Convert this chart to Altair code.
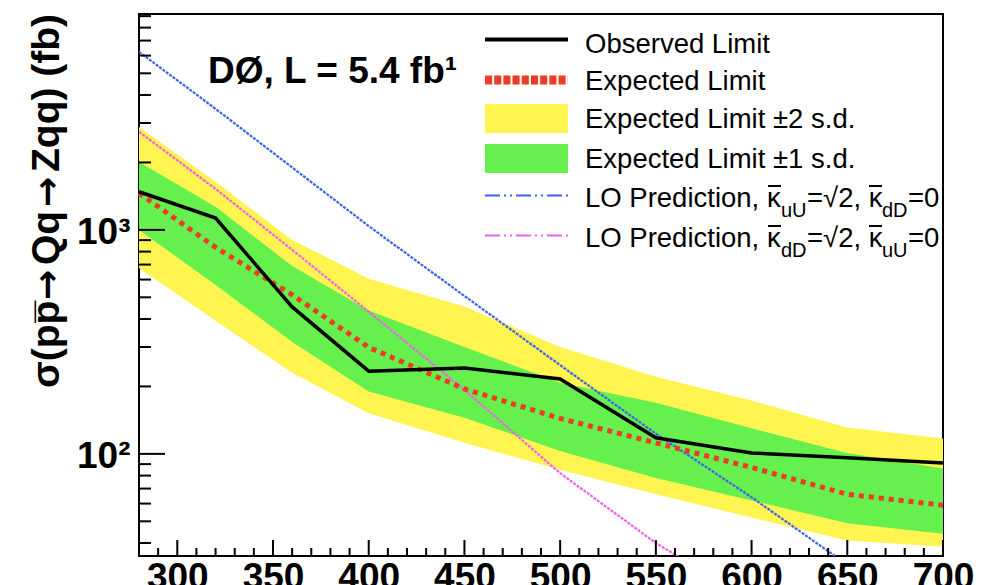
import altair as alt
import pandas as pd

# ---- data ----
mass = [280, 320, 360, 400, 450, 500, 550, 600, 650, 700]
observed = [1480, 1130, 453, 234, 242, 216, 118, 101, 96, 91]
expected = [1460, 836, 513, 299, 195, 144, 112, 87, 66, 59]
band1_lo = [1000, 568, 316, 190, 145, 103, 78, 62, 49, 44]
band1_hi = [2010, 1270, 690, 437, 300, 208, 169, 130, 101, 86]
band2_lo = [676, 393, 230, 152, 112, 85, 66, 52, 41, 38.5]
band2_hi = [2880, 1640, 902, 605, 455, 300, 221, 173, 131, 117]

lo_mass = [280, 320, 360, 400, 450, 500, 550, 600, 650]
lo_uU = [6240, 3470, 1900, 1040, 507, 249, 123, 64, 32]
lo_dD = [2740, 1524, 815, 431, 193, 82, 40, 22, 11]

x_major = [300, 350, 400, 450, 500, 550, 600, 650, 700]
x_minor = [290, 310, 320, 330, 340, 360, 370, 380, 390, 410, 420, 430, 440,
           460, 470, 480, 490, 510, 520, 530, 540, 560, 570, 580, 590, 610,
           620, 630, 640, 660, 670, 680, 690]
y_major = [100, 1000]
y_minor = [40, 50, 60, 70, 80, 90, 200, 300, 400, 500, 600, 700, 800, 900,
           2000, 3000, 4000, 5000, 6000, 7000, 8000, 9000]

W, H = 804, 542
FONT = "Liberation Sans"
YELLOW = "#fff450"
GREEN = "#66f04e"
RED = "#ee3b25"
BLUE = "#3d62f0"
PINK = "#f060f0"

df = pd.DataFrame({"mass": mass, "observed": observed, "expected": expected,
                   "b1lo": band1_lo, "b1hi": band1_hi,
                   "b2lo": band2_lo, "b2hi": band2_hi})
lo_df = pd.DataFrame({"mass": lo_mass, "uU": lo_uU, "dD": lo_dD})
one = pd.DataFrame({"a": [0]})

XS = alt.Scale(domain=[280, 700], nice=False, zero=False)
YS = alt.Scale(type="log", domain=[35, 9200], nice=False)

xaxis = alt.Axis(values=x_major, title=None, ticks=False, domain=False, grid=False,
                 labelFont=FONT, labelFontSize=37, labelFontWeight="bold",
                 labelColor="black", labelPadding=3, labelFlush=False,
                 labelOverlap=False, labelBound=False, format="d")
yaxis = alt.Axis(values=y_major, ticks=False, domain=False, grid=False,
                 labelExpr="datum.value == 1000 ? '10³' : '10²'",
                 labelFont=FONT, labelFontSize=37, labelFontWeight="bold",
                 labelColor="black", labelPadding=9, labelOffset=3, title=None)

base = alt.Chart(df)
yellow = base.mark_area(color=YELLOW, opacity=1).encode(
    x=alt.X("mass:Q", scale=XS, axis=xaxis),
    y=alt.Y("b2lo:Q", scale=YS, axis=yaxis),
    y2="b2hi:Q")
green = base.mark_area(color=GREEN, opacity=1).encode(
    x=alt.X("mass:Q", scale=XS), y=alt.Y("b1lo:Q", scale=YS), y2="b1hi:Q")
exp_line = base.mark_line(color=RED, strokeWidth=5, strokeDash=[5, 5]).encode(
    x=alt.X("mass:Q", scale=XS), y=alt.Y("expected:Q", scale=YS))
obs_line = base.mark_line(color="black", strokeWidth=3.5).encode(
    x=alt.X("mass:Q", scale=XS), y=alt.Y("observed:Q", scale=YS))
blue_line = alt.Chart(lo_df).mark_line(color=BLUE, strokeWidth=2.2, strokeDash=[3, 1.2], clip=True).encode(
    x=alt.X("mass:Q", scale=XS), y=alt.Y("uU:Q", scale=YS))
pink_line = alt.Chart(lo_df).mark_line(color=PINK, strokeWidth=2.2, strokeDash=[3, 1.2], clip=True).encode(
    x=alt.X("mass:Q", scale=XS), y=alt.Y("dD:Q", scale=YS))

# ---- inward ticks ----
def xticks(vals, length):
    return alt.Chart(pd.DataFrame({"v": vals})).mark_rule(color="black", strokeWidth=2).encode(
        x=alt.X("v:Q", scale=XS), y=alt.value(H), y2=alt.value(H - length))

def yticks(vals, length):
    return alt.Chart(pd.DataFrame({"v": vals})).mark_rule(color="black", strokeWidth=2).encode(
        y=alt.Y("v:Q", scale=YS), x=alt.value(0), x2=alt.value(length))

ticks = [xticks(x_major, 16), xticks(x_minor, 8), yticks(y_major, 26), yticks(y_minor, 12)]

# ---- helpers for text ----
def txt(s, x, y, size=27.5, weight="normal", font=FONT, angle=0):
    kw = dict(align="left", baseline="alphabetic", font=font,
              fontSize=size, fontWeight=weight, color="black")
    if angle:
        kw["angle"] = angle
    return alt.Chart(one).mark_text(**kw).encode(
        x=alt.value(x), y=alt.value(y), text=alt.value(s))

def hbar(x0, x1, y, color="black", width=2, dash=None):
    kw = dict(color=color, strokeWidth=width)
    if dash:
        kw["strokeDash"] = dash
    return alt.Chart(one).mark_rule(**kw).encode(
        x=alt.value(x0), x2=alt.value(x1), y=alt.value(y))

# ---- y-axis title, written rotated (runs upward) ----
TX = -80
ytitle = [
    txt("σ(pp\u0305", TX, 374, size=39, weight="bold", angle=270),
    txt("→", TX, 286, size=36, weight="bold", font="DejaVu Sans", angle=270),
    txt("Qq", TX, 251, size=39, weight="bold", angle=270),
    txt("→", TX, 193, size=36, weight="bold", font="DejaVu Sans", angle=270),
    txt("Zqq) (fb)", TX, 158, size=39, weight="bold", angle=270),
]

# ---- legend (drawn inside the plot) ----
leg = []
lx0, lx1, tx = 346, 429, 446
leg.append(hbar(lx0, lx1, 25.5, width=4))
leg.append(hbar(lx0, lx1, 66, color=RED, width=9, dash=[7, 2.2]))
leg.append(alt.Chart(one).mark_rect(color=YELLOW).encode(
    x=alt.value(lx0), x2=alt.value(lx1), y=alt.value(90), y2=alt.value(119)))
leg.append(alt.Chart(one).mark_rect(color=GREEN).encode(
    x=alt.value(lx0), x2=alt.value(lx1), y=alt.value(130), y2=alt.value(159)))
leg.append(hbar(lx0, lx1, 181.5, color=BLUE, width=2, dash=[15, 4, 2, 4, 2, 4]))
leg.append(hbar(lx0, lx1, 221.5, color=PINK, width=2, dash=[15, 4, 2, 4, 2, 4]))

leg.append(txt("Observed Limit", tx, 39))
leg.append(txt("Expected Limit", tx, 76))
leg.append(txt("Expected Limit ±2 s.d.", tx, 114))
leg.append(txt("Expected Limit ±1 s.d.", tx, 154))
for yb, s1, s2 in [(193, "uU", "dD"), (233, "dD", "uU")]:
    leg.append(txt("LO Prediction, κ", tx, yb))
    leg.append(hbar(629, 642, yb - 21, width=2))
    leg.append(txt(s1, 642, yb + 10, size=20))
    leg.append(txt("=√2, κ", 668, yb))
    leg.append(hbar(730, 743, yb - 21, width=2))
    leg.append(txt(s2, 743, yb + 10, size=20))
    leg.append(txt("=0", 769, yb))

label = txt("DØ, L = 5.4 fb¹", 69, 69, size=37, weight="bold")

chart = alt.layer(yellow, green, pink_line, blue_line, exp_line, obs_line,
                  *ticks, *leg, *ytitle, label).properties(
    width=W, height=H,
    autosize=alt.AutoSizeParams(type="none"),
    padding={"left": 131, "top": 6, "right": 40, "bottom": 29},
    background="white",
).configure_view(stroke="black", strokeWidth=2)

chart.save("out.html", embed_options={"renderer": "svg", "actions": False})
